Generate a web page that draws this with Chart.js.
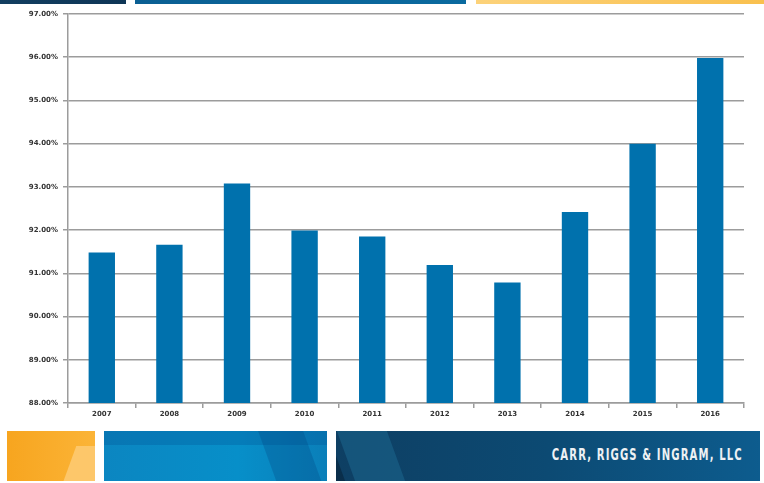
<!DOCTYPE html>
<html>
<head>
<meta charset="utf-8">
<script src="https://cdn.jsdelivr.net/npm/chart.js@4"></script>
<style>
  html, body { margin: 0; padding: 0; background: #fff; }
  #wrap { position: relative; width: 764px; height: 483px; overflow: hidden; }
  #c { position: absolute; left: 0; top: 0; }
  .deco { position: absolute; }
  #t1 { left: 0; top: 0; width: 126px; height: 4px; background: linear-gradient(90deg, #123e60, #0e3556); }
  #t2 { left: 135px; top: 0; width: 331px; height: 4px; background: linear-gradient(90deg, #0a5f93, #0a6a9f); }
  #t3 { left: 476px; top: 0; width: 288px; height: 4px; background: linear-gradient(90deg, #fcd27a, #f9c04e); }
  #f1 { left: 7px; top: 431px; width: 88px; height: 50px; background: linear-gradient(90deg, #f7a51f, #fbb437); overflow: hidden; }
  #f1 .s { position: absolute; left: 62px; top: 15px; width: 60px; height: 40px; background: #fdc76a; transform: skewX(-20deg); }
  #f2 { left: 104px; top: 431px; width: 223px; height: 50px; background: linear-gradient(90deg, #0b86c1, #078fc9 60%, #0a7fb9); overflow: hidden; }
  #f2 .s1 { position: absolute; left: 0; top: 0; width: 260px; height: 14px; background: rgba(0,70,140,0.25); }
  #f2 .s2 { position: absolute; left: 165px; top: 0; width: 45px; height: 60px; background: rgba(0,60,120,0.25); transform: skewX(20deg); }
  #f3 { left: 336px; top: 431px; width: 424px; height: 50px; background: linear-gradient(90deg, #0e3f63, #0c4a73 50%, #0d5c8e); overflow: hidden; }
  #f3 .s1 { position: absolute; left: 10px; top: -5px; width: 50px; height: 60px; background: rgba(30,110,150,0.45); transform: skewX(20deg); }
  #f3 .s2 { position: absolute; left: -20px; top: -5px; width: 20px; height: 60px; background: rgba(5,30,50,0.5); transform: skewX(20deg); }
  #f3 .txt { position: absolute; right: 17px; top: 14px; color: #eef1f4; font-family: "DejaVu Sans Condensed", "DejaVu Sans", sans-serif; font-weight: bold; font-size: 16px; line-height: 20px; letter-spacing: 1.6px; white-space: nowrap; transform: scaleX(0.7); transform-origin: right center; }
</style>
</head>
<body>
<div id="wrap">
  <canvas id="c" width="764" height="483"></canvas>
  <div class="deco" id="t1"></div>
  <div class="deco" id="t2"></div>
  <div class="deco" id="t3"></div>
  <div class="deco" id="f1"><div class="s"></div></div>
  <div class="deco" id="f2"><div class="s1"></div><div class="s2"></div></div>
  <div class="deco" id="f3"><div class="s2"></div><div class="s1"></div><div class="txt">CARR, RIGGS &amp; INGRAM, LLC</div></div>
</div>
<script>
const years = ["2007", "2008", "2009", "2010", "2011", "2012", "2013", "2014", "2015", "2016"];
const rates = [91.48, 91.66, 93.08, 91.99, 91.85, 91.19, 90.79, 92.42, 94.00, 95.98];
const yMin = 88;
const yMax = 97;

const gridColor = '#9c9c9c';

new Chart(document.getElementById('c'), {
  type: 'bar',
  data: {
    labels: years,
    datasets: [{
      data: rates,
      backgroundColor: '#0071ad',
      borderWidth: 0,
      barPercentage: 0.39,
      categoryPercentage: 1.0
    }]
  },
  options: {
    responsive: false,
    animation: false,
    layout: { padding: { left: 0, right: 20, top: 14, bottom: 60 } },
    plugins: { legend: { display: false }, tooltip: { enabled: false } },
    scales: {
      x: {
        afterFit: (s) => { s.height = 20; },
        grid: { display: true, drawOnChartArea: false, drawTicks: true, tickLength: 5, color: gridColor, lineWidth: 1.5 },
        border: { display: true, color: gridColor, width: 1.5 },
        ticks: { color: '#333', font: { family: 'DejaVu Sans', size: 7, weight: 'bold' }, padding: 2 }
      },
      y: {
        min: yMin,
        max: yMax,
        afterFit: (s) => { s.width = 68; },
        grid: { color: gridColor, lineWidth: 1.5, tickLength: 5 },
        border: { display: true, color: gridColor, width: 1.5 },
        ticks: {
          stepSize: 1,
          color: '#333',
          font: { family: 'DejaVu Sans', size: 7, weight: 'bold' },
          padding: 5,
          callback: (v) => Number(v).toFixed(2) + '%'
        }
      }
    }
  }
});
</script>
</body>
</html>
